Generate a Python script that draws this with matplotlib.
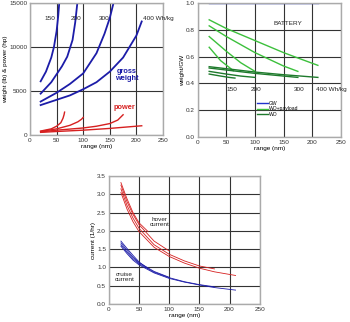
import numpy as np
import matplotlib.pyplot as plt

plt.rcParams['font.family'] = ['Liberation Sans', 'DejaVu Sans']

# --- weight & power vs range (per battery specific energy) ---
energy_labels = ["150", "200", "300", "400 Wh/kg"]

gw_x = [
    [20, 30, 40, 45, 50, 53, 55],
    [20, 40, 50, 60, 70, 80, 85, 89],
    [20, 50, 75, 100, 125, 140, 150, 157],
    [20, 50, 75, 100, 125, 150, 175, 200, 210],
]
gw_y = [
    [6100, 7200, 8800, 10000, 11800, 13500, 15000],
    [4700, 6000, 6900, 7800, 8900, 10800, 12800, 15000],
    [3800, 4800, 5800, 7000, 9300, 11500, 13300, 15000],
    [3400, 4000, 4500, 5200, 6000, 7200, 8800, 11300, 12900],
]
pw_x = [
    [20, 40, 50, 58, 62, 64, 65],
    [20, 50, 75, 90, 97, 100],
    [20, 50, 100, 125, 150, 165, 175],
    [20, 50, 100, 150, 200, 210],
]
pw_y = [
    [450, 700, 1000, 1400, 1900, 2300, 2600],
    [400, 700, 1100, 1500, 1800, 2000],
    [350, 550, 800, 1000, 1300, 1700, 2300],
    [300, 400, 550, 750, 1000, 1050],
]

# --- weight fractions ---
gw_line_x = [20, 210]
gw_line_y = [1.0, 1.0]
wop_x = [
    [20, 40, 55, 62],
    [20, 50, 75, 100],
    [20, 50, 100, 150, 175],
    [20, 50, 100, 150, 175, 210],
]
wop_y = [
    [0.67, 0.57, 0.52, 0.495],
    [0.75, 0.64, 0.555, 0.49],
    [0.83, 0.75, 0.63, 0.53, 0.49],
    [0.875, 0.81, 0.72, 0.63, 0.59, 0.535],
]
wo_x = [
    [20, 40, 55, 65],
    [20, 50, 75, 100],
    [20, 50, 100, 150, 175],
    [20, 50, 100, 150, 210],
]
wo_y = [
    [0.47, 0.455, 0.445, 0.44],
    [0.49, 0.47, 0.455, 0.445],
    [0.515, 0.50, 0.475, 0.455, 0.445],
    [0.525, 0.51, 0.485, 0.465, 0.445],
]

# --- currents ---
hov_x = [
    [20, 30, 40, 50, 65],
    [20, 30, 40, 50, 75, 100],
    [20, 30, 40, 50, 75, 100, 125, 150, 175],
    [20, 30, 40, 50, 75, 100, 125, 150, 175, 210],
]
hov_y = [
    [3.32, 2.88, 2.5, 2.22, 1.98],
    [3.25, 2.8, 2.45, 2.17, 1.72, 1.45],
    [3.15, 2.7, 2.35, 2.07, 1.62, 1.36, 1.18, 1.04, 0.96],
    [3.05, 2.6, 2.25, 1.98, 1.55, 1.3, 1.12, 0.98, 0.88, 0.78],
]
cru_x = hov_x
cru_y = [
    [1.72, 1.52, 1.33, 1.15, 0.97],
    [1.67, 1.47, 1.28, 1.13, 0.89, 0.73],
    [1.62, 1.42, 1.24, 1.1, 0.87, 0.72, 0.61, 0.53, 0.47],
    [1.58, 1.38, 1.2, 1.07, 0.85, 0.7, 0.6, 0.52, 0.45, 0.38],
]

BLUE = '#1c1ca8'
RED = '#d62020'
LGREEN = '#3cc03c'
DGREEN = '#1e7a2c'
GRID = '#333333'
FS = 4.6


def style(ax, xt, yt, ylim, yfmt):
    ax.set_xlim(0, 250)
    ax.set_ylim(*ylim)
    ax.set_xticks(xt)
    ax.set_yticks(yt)
    ax.set_yticklabels([yfmt.format(v) for v in yt])
    ax.grid(True, color=GRID, lw=0.8)
    ax.set_axisbelow(True)
    ax.tick_params(labelsize=FS, length=0, pad=2, colors='#333333')
    for s in ax.spines.values():
        s.set_color('#aaaaaa')
        s.set_linewidth(1.0)
    ax.set_xlabel("range (nm)", fontsize=FS, labelpad=1)


fig = plt.figure(figsize=(3.5, 3.22), dpi=100)

ax1 = fig.add_axes([0.0857, 0.5807, 0.38, 0.41])
for x, y in zip(gw_x, gw_y):
    ax1.plot(x, y, color=BLUE, lw=1.3)
for x, y in zip(pw_x, pw_y):
    ax1.plot(x, y, color=RED, lw=1.0)
style(ax1, range(0, 251, 50), [0, 5000, 10000, 15000], (0, 15000), "{:d}")
ax1.set_ylabel("weight (lb) & power (hp)", fontsize=FS, labelpad=1)
for lab, (x, y) in zip(energy_labels, [(38, 13200), (86, 13200), (139, 13200), (212, 13200)]):
    ax1.text(x, y, lab, fontsize=FS, ha='center' if x < 200 else 'left', va='center',
             color='#222222')
ax1.text(181, 6800, "gross\nweight", color=BLUE, fontsize=5.3, fontweight='bold',
         ha='center', va='center', linespacing=1.0)
ax1.text(178, 3100, "power", color=RED, fontsize=5.3, fontweight='bold',
         ha='center', va='center')

ax2 = fig.add_axes([0.565, 0.5745, 0.4086, 0.416])
ax2.plot(gw_line_x, gw_line_y, color='#2233cc', lw=1.0, label='GW')
for i, (x, y) in enumerate(zip(wop_x, wop_y)):
    ax2.plot(x, y, color=LGREEN, lw=1.0, label='WO+payload' if i == 0 else None)
for i, (x, y) in enumerate(zip(wo_x, wo_y)):
    ax2.plot(x, y, color=DGREEN, lw=1.0, label='WO' if i == 0 else None)
style(ax2, range(0, 251, 50), np.round(np.arange(0, 1.01, 0.2), 1), (0, 1.0), "{:.1f}")
ax2.set_ylabel("weight/GW", fontsize=FS, labelpad=1)
for lab, (x, y) in zip(energy_labels, [(60, 0.355), (102, 0.355), (177, 0.355), (207, 0.355)]):
    ax2.text(x, y, lab, fontsize=FS, ha='center' if x < 200 else 'left', va='center',
             color='#222222')
ax2.text(158, 0.85, "BATTERY", fontsize=FS, ha='center', va='center', color='#222222')
ax2.legend(loc='center', bbox_to_anchor=(0.56, 0.21), frameon=False, fontsize=3.6,
           handlelength=2.2, handletextpad=0.2, labelspacing=0.05, borderpad=0.1)

ax3 = fig.add_axes([0.311, 0.0559, 0.431, 0.3975])
for x, y in zip(hov_x, hov_y):
    ax3.plot(x, y, color=RED, lw=0.6)
for x, y in zip(cru_x, cru_y):
    ax3.plot(x, y, color=BLUE, lw=0.6)
style(ax3, range(0, 251, 50), np.round(np.arange(0, 3.51, 0.5), 1), (0, 3.5), "{:.1f}")
ax3.set_ylabel("current (1/hr)", fontsize=FS, labelpad=1)
ax3.text(84, 2.25, "hover\ncurrent", fontsize=FS, ha='center', va='center',
         color='#222222', linespacing=1.0)
ax3.text(26, 0.75, "cruise\ncurrent", fontsize=FS, ha='center', va='center',
         color='#222222', linespacing=1.0)

fig.savefig("out.png", dpi=100)
